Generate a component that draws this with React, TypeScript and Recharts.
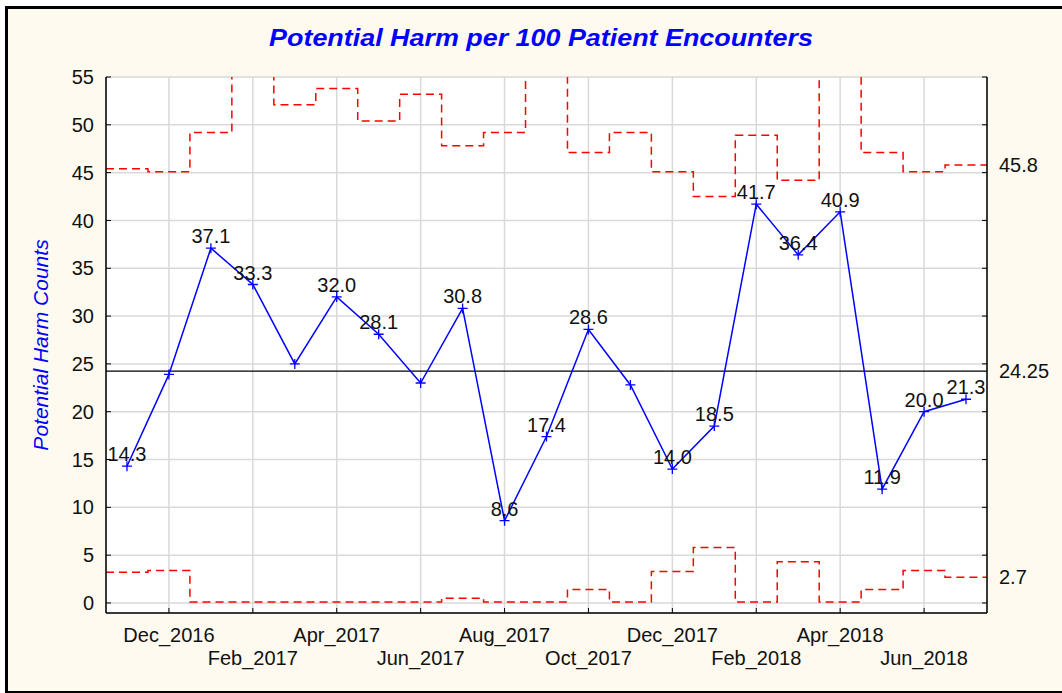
import {
  ComposedChart, Line, XAxis, YAxis, CartesianGrid, ReferenceLine, LabelList, Label,
} from 'recharts'

const months = [
  'Nov_2016', 'Dec_2016', 'Jan_2017', 'Feb_2017', 'Mar_2017', 'Apr_2017', 'May_2017',
  'Jun_2017', 'Jul_2017', 'Aug_2017', 'Sep_2017', 'Oct_2017', 'Nov_2017', 'Dec_2017',
  'Jan_2018', 'Feb_2018', 'Mar_2018', 'Apr_2018', 'May_2018', 'Jun_2018', 'Jul_2018',
]
const harm = [
  14.3, 23.9, 37.1, 33.3, 25.0, 32.0, 28.1, 23.0, 30.8, 8.6, 17.4,
  28.6, 22.8, 14.0, 18.5, 41.7, 36.4, 40.9, 11.9, 20.0, 21.3,
]
// points near the centre line carry no value label in the original
const labelled = [
  true, false, true, true, false, true, true, false, true, true, true,
  true, false, true, true, true, true, true, true, true, true,
]
// upper limits above 55 run off the top of the plot
const ucl = [
  45.4, 45.1, 49.2, 57, 52.1, 53.8, 50.4, 53.2, 47.8, 49.2, 57,
  47.1, 49.2, 45.1, 42.5, 48.9, 44.2, 57, 47.1, 45.1, 45.8,
]
const lcl = [
  3.2, 3.4, 0.1, 0.1, 0.1, 0.1, 0.1, 0.1, 0.5, 0.1, 0.1,
  1.4, 0.1, 3.3, 5.8, 0.1, 4.3, 0.1, 1.4, 3.4, 2.7,
]
const centerLine = 24.25
const yTicks = [0, 5, 10, 15, 20, 25, 30, 35, 40, 45, 50, 55]
const xTicks = [1, 3, 5, 7, 9, 11, 13, 15, 17, 19]
const limitLabels = [ucl[ucl.length - 1], centerLine, lcl[lcl.length - 1]]

const FONT = '"Liberation Sans", Arial, Helvetica, sans-serif'
const Y_DOMAIN: [number, number] = [-1.05, 55]
const X_DOMAIN: [number, number] = [-0.5, 20.5]

const points = harm.map((v, i) => ({ x: i, value: v, label: labelled[i] ? v.toFixed(1) : '' }))

// each month's limit is a flat segment across its own slot
function stepData(values: number[]) {
  return values.flatMap((v, i) => [{ x: i - 0.5, y: v }, { x: i + 0.5, y: v }])
}

function Cross({ cx, cy }: { cx?: number; cy?: number }) {
  if (cx == null || cy == null) return null
  return (
    <path
      d={`M${cx - 5},${cy}h10M${cx},${cy - 5}v10`}
      stroke="#0000ff"
      strokeWidth={1.3}
      fill="none"
    />
  )
}

function MonthTick({ x, y, payload }: any) {
  const lower = ((payload.value - 1) / 2) % 2 === 1
  return (
    <text x={x} y={y} dy={lower ? 52 : 29} textAnchor="middle" fontSize={20} fill="#111" fontFamily={FONT}>
      {months[payload.value]}
    </text>
  )
}

function LimitTick({ x, y, payload }: any) {
  if (limitLabels.includes(payload.value)) {
    return (
      <text x={x} y={y} dy="0.36em" textAnchor="start" fontSize={20} fill="#111" fontFamily={FONT}>
        {String(payload.value)}
      </text>
    )
  }
  return <line x1={x - 12} x2={x - 17} y1={y} y2={y} stroke="#000" />
}

export default function App() {
  return (
    <div style={{ position: 'absolute', left: 0, top: 0, width: 1062, height: 693, overflow: 'hidden', background: '#fff' }}>
      <div
        style={{
          position: 'absolute', left: 5, top: 6, width: 1057, height: 688,
          boxSizing: 'border-box', borderLeft: '3px solid #000', borderTop: '3px solid #000',
          borderBottom: '3px solid #000', background: '#fefaef',
        }}
      />
      <div
        style={{
          position: 'absolute', left: 10, top: 26, width: 1062, textAlign: 'center',
          fontFamily: FONT, fontWeight: 'bold', fontStyle: 'italic', fontSize: 24, lineHeight: '24px',
          color: '#0000ff', transform: 'scaleX(1.12)',
        }}
      >
        Potential Harm per 100 Patient Encounters
      </div>
      <div style={{ position: 'absolute', left: 0, top: 0 }}>
        <ComposedChart width={1062} height={693} data={points} margin={{ top: 77, right: 0, bottom: 0, left: 0 }}>
          <CartesianGrid stroke="#d9d9d9" strokeWidth={1.5} fill="#fff" />
          <XAxis
            dataKey="x"
            type="number"
            domain={X_DOMAIN}
            allowDataOverflow
            ticks={xTicks}
            interval={0}
            height={80}
            tickSize={-5}
            tickMargin={5}
            tick={<MonthTick />}
            axisLine={{ stroke: '#000', strokeWidth: 1.5 }}
            tickLine={{ stroke: '#000' }}
          />
          <XAxis
            xAxisId="top"
            orientation="top"
            type="number"
            domain={X_DOMAIN}
            allowDataOverflow
            ticks={xTicks}
            interval={0}
            height={0}
            tickSize={-5}
            tick={false}
            axisLine={{ stroke: '#000', strokeWidth: 1.5 }}
            tickLine={{ stroke: '#000' }}
          />
          <YAxis
            type="number"
            domain={Y_DOMAIN}
            allowDataOverflow
            ticks={yTicks}
            interval={0}
            width={106}
            tickSize={-5}
            tickMargin={17}
            tick={{ fontSize: 20, fill: '#111', fontFamily: FONT }}
            axisLine={{ stroke: '#000', strokeWidth: 1.5 }}
            tickLine={{ stroke: '#000' }}
          >
            <Label
              value="Potential Harm Counts"
              angle={-90}
              position="insideLeft"
              offset={41}
              style={{ textAnchor: 'middle', fill: '#0000ff', fontStyle: 'italic', fontSize: 21, fontFamily: FONT }}
            />
          </YAxis>
          <YAxis
            yAxisId="r"
            orientation="right"
            type="number"
            domain={Y_DOMAIN}
            allowDataOverflow
            ticks={[...yTicks, ...limitLabels]}
            interval={0}
            width={75}
            tickSize={0}
            tickMargin={12}
            tickLine={false}
            tick={<LimitTick />}
            axisLine={{ stroke: '#000', strokeWidth: 1.5 }}
          />
          <ReferenceLine y={centerLine} stroke="#000" strokeWidth={1.3} />
          <Line
            data={stepData(ucl)}
            dataKey="y"
            type="linear"
            stroke="#ff0000"
            strokeWidth={1.5}
            strokeDasharray="8 5"
            dot={false}
            activeDot={false}
            isAnimationActive={false}
          />
          <Line
            data={stepData(lcl)}
            dataKey="y"
            type="linear"
            stroke="#ff0000"
            strokeWidth={1.5}
            strokeDasharray="8 5"
            dot={false}
            activeDot={false}
            isAnimationActive={false}
          />
          <Line
            dataKey="value"
            type="linear"
            stroke="#0000ff"
            strokeWidth={1.5}
            dot={(p: any) => <Cross key={p.index} cx={p.cx} cy={p.cy} />}
            activeDot={false}
            isAnimationActive={false}
          >
            <LabelList dataKey="label" position="top" offset={5} fill="#111" fontSize={20} fontFamily={FONT} />
          </Line>
        </ComposedChart>
      </div>
    </div>
  )
}
